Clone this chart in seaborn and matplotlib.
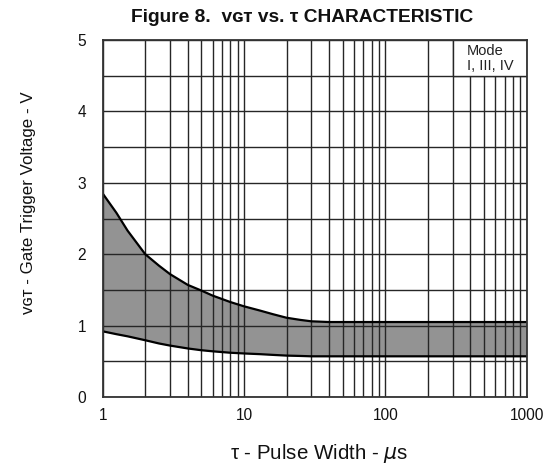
import numpy as np
import pandas as pd
import matplotlib
matplotlib.use("Agg")
import matplotlib.pyplot as plt
import matplotlib.ticker as mticker
from matplotlib.patches import Rectangle
import seaborn as sns

# ---- data ----
tau = [1, 1.25, 1.5, 2, 2.5, 3, 4, 5, 6, 8, 10, 13, 16, 20, 25, 30, 40, 60, 100, 200, 500, 1000]
v_upper = [2.85, 2.58, 2.33, 2.0, 1.84, 1.72, 1.57, 1.49, 1.42, 1.33, 1.27, 1.21, 1.16, 1.11, 1.08, 1.06, 1.05, 1.05, 1.05, 1.05, 1.05, 1.05]
v_lower = [0.92, 0.88, 0.85, 0.795, 0.75, 0.72, 0.68, 0.655, 0.64, 0.62, 0.61, 0.60, 0.59, 0.58, 0.575, 0.57, 0.57, 0.57, 0.57, 0.57, 0.57, 0.57]
x_ticks = [1, 10, 100, 1000]
x_tick_labels = ["1", "10", "100", "1000"]
y_ticks = [0, 1, 2, 3, 4, 5]
mode_text = "Mode\nI, III, IV"

df = pd.DataFrame({"tau": tau, "upper": v_upper, "lower": v_lower})
long = df.melt(id_vars="tau", value_vars=["upper", "lower"], var_name="edge", value_name="v")

sns.set_theme(style="white")
plt.rcParams["font.family"] = ["Liberation Sans", "DejaVu Sans"]

fig = plt.figure(figsize=(5.5, 4.7), dpi=100)
ax = fig.add_axes([0.1867, 0.1553, 0.9576 - 0.1867, 0.9149 - 0.1553])

ax.fill_between(df["tau"], df["lower"], df["upper"], color="#939393", linewidth=0, zorder=1)
sns.lineplot(data=long, x="tau", y="v", units="edge", estimator=None, color="black",
             linewidth=1.6, ax=ax, zorder=3, legend=False)

ax.set_xscale("log")
ax.set_xlim(1, 1000)
ax.set_ylim(0, 5)
ax.xaxis.set_major_locator(mticker.FixedLocator(x_ticks))
ax.xaxis.set_major_formatter(mticker.FixedFormatter(x_tick_labels))
ax.xaxis.set_minor_locator(mticker.LogLocator(base=10, subs=np.arange(2, 10)))
ax.xaxis.set_minor_formatter(mticker.NullFormatter())
ax.yaxis.set_major_locator(mticker.FixedLocator(y_ticks))
ax.yaxis.set_minor_locator(mticker.MultipleLocator(0.5))

ax.set_axisbelow(False)
ax.grid(True, which="both", color="#262626", linewidth=1.0, zorder=2)
ax.tick_params(which="both", length=0, labelsize=11.2, colors="#111111")
ax.tick_params(axis="x", pad=8)
ax.tick_params(axis="y", pad=12)

for s in ax.spines.values():
    s.set_color("#333333")
    s.set_linewidth(1.3)
    s.set_zorder(5)

# white box for the mode note in the top-right corner
ax.add_patch(Rectangle((300, 4.5), 700, 0.5, facecolor="white", edgecolor="#262626",
                       linewidth=1.0, zorder=4))
ax.text(378, 4.74, mode_text, ha="left", va="center", fontsize=10.5, linespacing=1.15,
        color="#222222", zorder=6)

ax.set_xlabel("τ - Pulse Width - $\\mu$s", fontsize=14.8, color="#111111")
ax.xaxis.set_label_coords(0.51, -0.125)
ax.set_ylabel("ᴠɢᴛ - Gate Trigger Voltage - V", fontsize=12.2, color="#111111")
ax.yaxis.set_label_coords(-0.158, 0.545)

fig.text(302 / 550, 1 - 18 / 470, "Figure 8.  ᴠɢᴛ vs. τ CHARACTERISTIC", ha="center", va="center",
         fontsize=13.8, fontweight="bold", color="#111111")

fig.savefig("out.png", dpi=100, facecolor="white")
